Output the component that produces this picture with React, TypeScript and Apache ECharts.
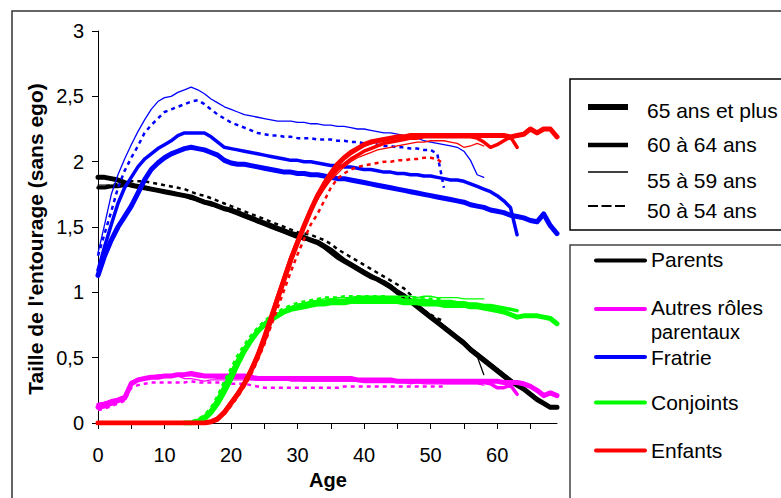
import React, { useEffect, useRef } from "react";
import * as echarts from "echarts";

// ---------- Data ----------
const COHORTS = ["65 ans et plus", "60 à 64 ans", "55 à 59 ans", "50 à 54 ans"];
const ROLES = ["Parents", "Autres rôles parentaux", "Fratrie", "Conjoints", "Enfants"];
const X_TICK_LABELS = [0, 10, 20, 30, 40, 50, 60];
const Y_TICK_LABELS = ["0", "0,5", "1", "1,5", "2", "2,5", "3"];

// Parents (from age 0)
const parents65 = [1.88,1.88,1.87,1.86,1.84,1.82,1.81,1.80,1.79,1.78,1.77,1.76,1.75,1.74,1.73,1.71,1.69,1.68,1.66,1.64,1.63,1.61,1.59,1.57,1.55,1.53,1.51,1.49,1.47,1.45,1.44,1.42,1.40,1.38,1.35,1.31,1.27,1.24,1.21,1.18,1.15,1.12,1.10,1.07,1.04,1.00,0.97,0.93,0.89,0.85,0.81,0.77,0.73,0.69,0.65,0.61,0.56,0.52,0.48,0.44,0.40,0.36,0.32,0.29,0.26,0.22,0.18,0.15,0.12,0.12];
const parents60 = [1.80,1.80,1.81,1.81,1.82,1.82,1.81,1.80,1.79,1.78,1.77,1.76,1.75,1.74,1.72,1.71,1.69,1.67,1.66,1.64,1.62,1.60,1.58,1.56,1.54,1.52,1.50,1.48,1.46,1.44,1.42,1.41,1.40,1.39,1.36,1.33,1.29,1.25,1.22,1.19,1.16,1.13,1.10,1.08,1.05,1.01,0.98,0.94,0.90,0.86,0.82,0.78,0.74,0.70,0.66,0.62,0.57,0.53,0.49,0.45,0.41,0.37,0.33,0.29];
const parents55 = [1.82,1.82,1.82,1.82,1.83,1.83,1.82,1.81,1.80,1.79,1.78,1.77,1.76,1.75,1.73,1.72,1.70,1.68,1.66,1.64,1.62,1.60,1.58,1.56,1.54,1.52,1.50,1.48,1.46,1.44,1.42,1.41,1.40,1.38,1.35,1.32,1.28,1.24,1.21,1.18,1.15,1.12,1.09,1.06,1.03,1.00,0.96,0.92,0.88,0.84,0.80,0.76,0.72,0.68,0.64,0.60,0.55,0.51,0.37];
const parents50 = [1.80,1.81,1.82,1.83,1.84,1.85,1.85,1.85,1.84,1.83,1.82,1.81,1.80,1.79,1.77,1.75,1.74,1.72,1.70,1.68,1.66,1.64,1.62,1.60,1.58,1.56,1.54,1.52,1.50,1.48,1.46,1.45,1.44,1.42,1.40,1.37,1.33,1.30,1.27,1.24,1.21,1.18,1.15,1.12,1.09,1.06,1.03,0.98,0.90,0.86,0.83,0.80,0.78];

// Autres rôles parentaux (from age 0)
const autres65 = [0.12,0.13,0.15,0.17,0.19,0.30,0.33,0.34,0.35,0.35,0.36,0.36,0.37,0.37,0.38,0.37,0.36,0.36,0.36,0.36,0.36,0.36,0.36,0.35,0.34,0.34,0.34,0.34,0.34,0.34,0.34,0.34,0.34,0.34,0.34,0.34,0.34,0.34,0.34,0.33,0.33,0.33,0.33,0.33,0.33,0.32,0.32,0.32,0.32,0.32,0.32,0.32,0.32,0.32,0.32,0.32,0.32,0.32,0.32,0.32,0.32,0.31,0.31,0.31,0.30,0.28,0.25,0.21,0.23,0.21];
const autres60 = [0.14,0.15,0.17,0.18,0.20,0.31,0.33,0.34,0.35,0.36,0.36,0.36,0.37,0.37,0.37,0.36,0.36,0.36,0.35,0.35,0.35,0.35,0.35,0.34,0.34,0.34,0.34,0.34,0.34,0.33,0.33,0.33,0.33,0.33,0.33,0.33,0.33,0.33,0.33,0.33,0.33,0.32,0.32,0.32,0.32,0.32,0.32,0.32,0.32,0.32,0.32,0.32,0.31,0.31,0.31,0.31,0.31,0.31,0.31,0.30,0.27,0.27,0.29,0.22];
const autres55 = [0.15,0.16,0.17,0.19,0.21,0.31,0.33,0.34,0.35,0.35,0.35,0.35,0.36,0.34,0.34,0.33,0.32,0.33,0.33,0.33,0.33,0.33,0.33,0.33,0.33,0.33,0.33,0.33,0.33,0.33,0.33,0.32,0.32,0.32,0.32,0.32,0.32,0.32,0.32,0.32,0.31,0.31,0.31,0.31,0.31,0.31,0.31,0.30,0.31,0.30,0.30,0.30,0.30,0.30,0.30,0.30,0.30,0.30,0.29];
const autres50 = [0.10,0.11,0.13,0.15,0.17,0.27,0.29,0.30,0.31,0.31,0.31,0.31,0.31,0.31,0.32,0.31,0.31,0.31,0.31,0.31,0.30,0.30,0.30,0.29,0.28,0.27,0.27,0.27,0.27,0.27,0.27,0.27,0.27,0.27,0.27,0.27,0.27,0.28,0.28,0.28,0.28,0.28,0.28,0.28,0.28,0.28,0.28,0.28,0.28,0.28,0.28,0.28,0.28];

// Fratrie (from age 0)
const fratrie65 = [1.13,1.28,1.40,1.50,1.58,1.66,1.76,1.86,1.94,1.99,2.03,2.06,2.08,2.10,2.11,2.10,2.09,2.07,2.05,2.01,1.99,1.98,1.98,1.97,1.96,1.95,1.94,1.93,1.92,1.92,1.91,1.91,1.90,1.90,1.89,1.88,1.87,1.87,1.86,1.85,1.84,1.83,1.82,1.81,1.80,1.79,1.78,1.77,1.76,1.75,1.74,1.73,1.72,1.71,1.70,1.69,1.67,1.66,1.65,1.63,1.62,1.61,1.59,1.58,1.57,1.55,1.54,1.60,1.51,1.45];
const fratrie60 = [1.17,1.35,1.52,1.68,1.80,1.88,1.96,2.02,2.06,2.10,2.13,2.16,2.20,2.22,2.22,2.22,2.22,2.19,2.15,2.11,2.10,2.09,2.08,2.07,2.06,2.05,2.04,2.03,2.02,2.01,2.01,2.00,2.00,1.99,1.98,1.97,1.97,1.96,1.96,1.95,1.94,1.94,1.93,1.92,1.92,1.91,1.91,1.90,1.90,1.89,1.89,1.88,1.87,1.86,1.86,1.85,1.83,1.81,1.79,1.77,1.74,1.70,1.65,1.44];
const fratrie55 = [1.30,1.52,1.75,1.90,2.02,2.13,2.23,2.32,2.40,2.46,2.49,2.50,2.53,2.55,2.57,2.55,2.52,2.48,2.45,2.42,2.40,2.38,2.36,2.35,2.34,2.33,2.32,2.31,2.31,2.31,2.30,2.30,2.29,2.29,2.28,2.28,2.27,2.27,2.26,2.25,2.25,2.24,2.23,2.22,2.22,2.21,2.20,2.19,2.18,2.16,2.15,2.14,2.13,2.12,2.11,2.08,2.01,1.90,1.88];
const fratrie50 = [1.28,1.45,1.62,1.80,1.93,2.03,2.12,2.22,2.28,2.33,2.38,2.40,2.42,2.44,2.46,2.47,2.44,2.40,2.36,2.33,2.30,2.28,2.26,2.24,2.22,2.21,2.20,2.20,2.19,2.19,2.18,2.18,2.18,2.17,2.17,2.17,2.16,2.16,2.15,2.15,2.14,2.14,2.13,2.12,2.12,2.11,2.11,2.10,2.10,2.09,2.09,2.06,1.80];

// Conjoints (from age 13)
const CONJOINTS_START = 13;
const conjoints65 = [0.00,0.00,0.01,0.03,0.08,0.15,0.24,0.34,0.45,0.55,0.63,0.70,0.75,0.79,0.82,0.85,0.87,0.88,0.89,0.90,0.91,0.91,0.92,0.92,0.92,0.93,0.93,0.93,0.93,0.93,0.93,0.93,0.93,0.92,0.92,0.92,0.91,0.91,0.91,0.90,0.90,0.90,0.90,0.89,0.89,0.88,0.87,0.86,0.85,0.83,0.81,0.82,0.82,0.82,0.81,0.80,0.76];
const conjoints60 = [0.00,0.00,0.02,0.05,0.10,0.18,0.28,0.38,0.48,0.57,0.64,0.71,0.76,0.80,0.83,0.86,0.88,0.89,0.91,0.92,0.93,0.93,0.94,0.94,0.94,0.95,0.95,0.95,0.95,0.95,0.95,0.95,0.95,0.94,0.94,0.94,0.94,0.93,0.93,0.93,0.93,0.92,0.92,0.91,0.91,0.90,0.90,0.89,0.88,0.87,0.86];
const conjoints55 = [0.00,0.01,0.02,0.05,0.11,0.20,0.30,0.40,0.50,0.58,0.66,0.72,0.77,0.81,0.84,0.87,0.89,0.91,0.92,0.93,0.94,0.95,0.95,0.96,0.96,0.96,0.97,0.97,0.97,0.97,0.97,0.97,0.97,0.97,0.97,0.96,0.97,0.97,0.96,0.96,0.96,0.96,0.95,0.95,0.95,0.95];
const conjoints50 = [0.00,0.01,0.03,0.06,0.12,0.21,0.32,0.42,0.52,0.60,0.67,0.73,0.78,0.82,0.85,0.88,0.90,0.92,0.93,0.94,0.95,0.96,0.96,0.96,0.97,0.97,0.97,0.97,0.97,0.97,0.97,0.96,0.96,0.96,0.96,0.96,0.96,0.95,0.95,0.95];

// Enfants (from age 0)
const enfants65 = [0,0,0,0,0,0,0,0,0,0,0,0,0,0,0,0,0,0.01,0.03,0.08,0.15,0.22,0.30,0.40,0.51,0.64,0.79,0.95,1.10,1.25,1.38,1.51,1.63,1.74,1.83,1.91,1.98,2.03,2.07,2.10,2.13,2.15,2.16,2.17,2.18,2.19,2.19,2.20,2.20,2.20,2.20,2.20,2.20,2.20,2.20,2.20,2.20,2.20,2.20,2.20,2.20,2.20,2.19,2.20,2.21,2.25,2.22,2.25,2.25,2.19];
const enfants60 = [0,0,0,0,0,0,0,0,0,0,0,0,0,0,0,0,0,0.01,0.04,0.09,0.16,0.23,0.31,0.41,0.53,0.67,0.82,0.97,1.12,1.27,1.40,1.52,1.63,1.73,1.81,1.88,1.94,1.98,2.02,2.05,2.08,2.10,2.12,2.14,2.15,2.16,2.17,2.18,2.18,2.19,2.19,2.19,2.19,2.19,2.19,2.19,2.19,2.18,2.15,2.11,2.13,2.16,2.19,2.11];
const enfants55 = [0,0,0,0,0,0,0,0,0,0,0,0,0,0,0,0,0,0.01,0.04,0.09,0.16,0.24,0.32,0.42,0.54,0.68,0.83,0.98,1.13,1.27,1.40,1.52,1.62,1.71,1.79,1.86,1.91,1.96,2.00,2.03,2.05,2.07,2.09,2.10,2.11,2.12,2.13,2.14,2.15,2.15,2.16,2.16,2.16,2.15,2.14,2.11,2.12,2.14,2.12];
const enfants50 = [0,0,0,0,0,0,0,0,0,0,0,0,0,0,0,0,0,0.01,0.03,0.07,0.13,0.20,0.28,0.37,0.48,0.60,0.74,0.88,1.02,1.16,1.29,1.41,1.52,1.60,1.70,1.80,1.87,1.91,1.94,1.96,1.97,1.98,1.99,2.00,2.00,2.01,2.01,2.02,2.02,2.03,2.03,2.02,1.98];

// ---------- Styles ----------
const FONT = "'Liberation Sans', Arial, sans-serif";
const ROLE_COLORS = ["#000000", "#FF00FF", "#0000FF", "#00FF00", "#FF0000"];
const COHORT_STYLES = [
  { width: 5, type: "solid" as any },
  { width: 3.5, type: "solid" as any },
  { width: 1.3, type: "solid" as any },
  { width: 2.5, type: [4, 4] as any },
];

const ROLE_SERIES = [
  { start: 0, sets: [parents65, parents60, parents55, parents50] },
  { start: 0, sets: [autres65, autres60, autres55, autres50] },
  { start: 0, sets: [fratrie65, fratrie60, fratrie55, fratrie50] },
  { start: CONJOINTS_START, sets: [conjoints65, conjoints60, conjoints55, conjoints50] },
  { start: 0, sets: [enfants65, enfants60, enfants55, enfants50] },
];

export default function App() {
  const ref = useRef<HTMLDivElement>(null);

  useEffect(() => {
    if (!ref.current) return;
    const chart = echarts.init(ref.current, null, { renderer: "svg" });

    const series: any[] = [];
    ROLE_SERIES.forEach((r, ri) => {
      r.sets.forEach((vals, ci) => {
        series.push({
          name: ROLES[ri] + " - " + COHORTS[ci],
          type: "line",
          data: vals.map((v, i) => [r.start + i, v]),
          showSymbol: false,
          symbol: "none",
          silent: true,
          lineStyle: {
            color: ROLE_COLORS[ri],
            width: COHORT_STYLES[ci].width,
            type: COHORT_STYLES[ci].type,
            cap: ci === 3 ? "butt" : "round",
            join: "round",
          },
          emphasis: { disabled: true },
        });
      });
    });

    const g: any[] = [];
    // outer frame
    g.push({
      type: "rect",
      shape: { x: 12, y: 11, width: 820, height: 520 },
      style: { fill: "none", stroke: "#333", lineWidth: 1.5 },
      silent: true,
    });
    // legend box 1 (cohorts)
    g.push({
      type: "rect",
      shape: { x: 570, y: 79, width: 260, height: 151 },
      style: { fill: "#fff", stroke: "#000", lineWidth: 1.5 },
      silent: true,
    });
    const l1y = [107, 145, 172, 206];
    const l1ty = [110, 144, 180, 210];
    const l1w = [6, 4.5, 1.5, 1.8];
    COHORTS.forEach((c, i) => {
      g.push({
        type: "line",
        shape: { x1: 588, y1: l1y[i], x2: 628, y2: l1y[i] },
        style: {
          stroke: "#000",
          lineWidth: l1w[i],
          lineDash: i === 3 ? [10, 3.5] : null,
        },
        silent: true,
      });
      g.push({
        type: "text",
        x: 647,
        y: l1ty[i],
        style: {
          text: c,
          fontFamily: FONT,
          fontSize: 21,
          fill: "#000",
          verticalAlign: "middle",
          align: "left",
        },
        silent: true,
      });
    });
    // legend box 2 (roles)
    g.push({
      type: "rect",
      shape: { x: 570, y: 245, width: 260, height: 280 },
      style: { fill: "#fff", stroke: "#444", lineWidth: 1.5 },
      silent: true,
    });
    const l2y = [260.5, 309, 357, 402.5, 450.5];
    ROLES.forEach((r, i) => {
      g.push({
        type: "line",
        shape: { x1: 596, y1: l2y[i], x2: 645, y2: l2y[i] },
        style: { stroke: ROLE_COLORS[i], lineWidth: 4, lineCap: "round" },
        silent: true,
      });
    });
    const l2texts = [
      { t: "Parents", y: 259, s: 21 },
      { t: "Autres rôles", y: 307, s: 21 },
      { t: "parentaux", y: 332, s: 20 },
      { t: "Fratrie", y: 357, s: 21 },
      { t: "Conjoints", y: 402, s: 21 },
      { t: "Enfants", y: 450, s: 21 },
    ];
    l2texts.forEach((o) => {
      g.push({
        type: "text",
        x: 651,
        y: o.y,
        style: {
          text: o.t,
          fontFamily: FONT,
          fontSize: o.s,
          lineHeight: 21,
          fill: "#000",
          verticalAlign: "middle",
          align: "left",
        },
        silent: true,
      });
    });
    // axis titles
    g.push({
      type: "text",
      x: 35,
      y: 239,
      rotation: Math.PI / 2,
      style: {
        text: "Taille de l'entourage (sans ego)",
        fontFamily: FONT,
        fontSize: 21,
        fontWeight: "bold",
        fill: "#000",
        align: "center",
        verticalAlign: "middle",
      },
      silent: true,
    });
    g.push({
      type: "text",
      x: 328,
      y: 480,
      style: {
        text: "Age",
        fontFamily: FONT,
        fontSize: 20,
        fontWeight: "bold",
        fill: "#000",
        align: "center",
        verticalAlign: "middle",
      },
      silent: true,
    });

    chart.setOption({
      animation: false,
      backgroundColor: "#fff",
      grid: { left: 98, right: 224, top: 31, bottom: 75, containLabel: false },
      xAxis: {
        type: "value",
        min: 0,
        max: 69,
        interval: 5,
        splitLine: { show: false },
        axisLine: { show: true, lineStyle: { color: "#000", width: 1 } },
        axisTick: { show: true, length: 6, inside: false, lineStyle: { color: "#000" } },
        axisLabel: {
          margin: 22,
          fontFamily: FONT,
          fontSize: 20,
          color: "#000",
          showMaxLabel: false,
          formatter: (v: number) => (X_TICK_LABELS.indexOf(v) >= 0 ? String(v) : ""),
        },
      },
      yAxis: {
        type: "value",
        min: 0,
        max: 3,
        interval: 0.5,
        splitLine: { show: false },
        axisLine: { show: true, lineStyle: { color: "#000", width: 1 } },
        axisTick: { show: true, length: 6, inside: false, lineStyle: { color: "#000" } },
        axisLabel: {
          margin: 14,
          fontFamily: FONT,
          fontSize: 20,
          color: "#000",
          formatter: (v: number) => Y_TICK_LABELS[Math.round(v * 2)] ?? "",
        },
      },
      series,
      graphic: g,
    });

    return () => chart.dispose();
  }, []);

  return (
    <div
      ref={ref}
      style={{ position: "fixed", left: 0, top: 0, width: 781, height: 498, background: "#fff" }}
    />
  );
}
